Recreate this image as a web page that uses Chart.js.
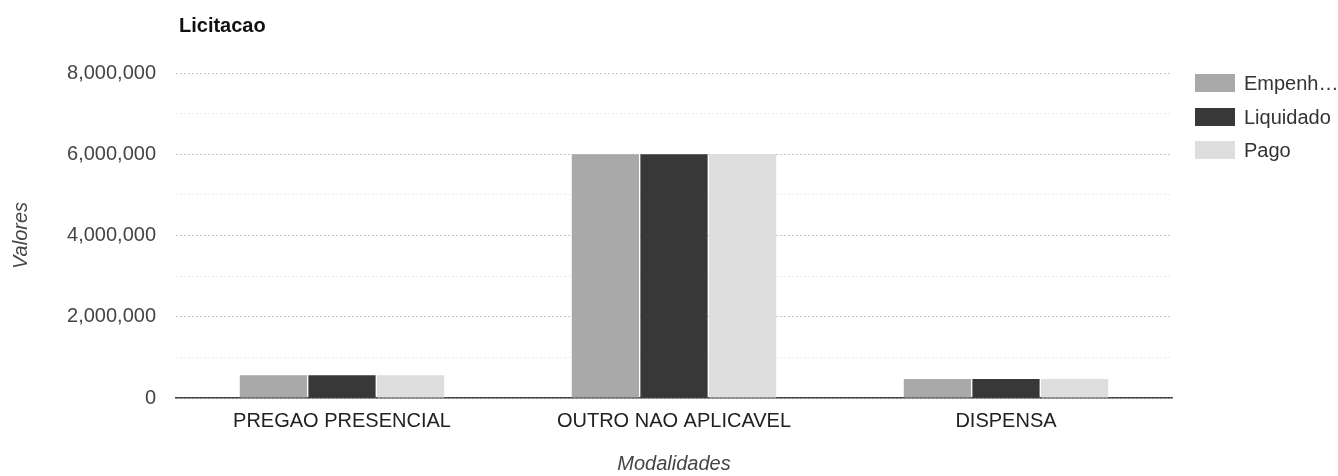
<!DOCTYPE html>
<html>
<head>
<meta charset="utf-8">
<script src="https://cdn.jsdelivr.net/npm/chart.js@4"></script>
<style>
  html, body { margin: 0; padding: 0; background: #fff; }
  #wrap { width: 1338px; height: 476px; }
</style>
</head>
<body>
<div id="wrap"><canvas id="myChart" width="1338" height="476"></canvas></div>
<script>
const modalidades = ['PREGAO PRESENCIAL', 'OUTRO NAO APLICAVEL', 'DISPENSA'];
const empenhado = [560000, 6000000, 470000];
const liquidado = [560000, 6000000, 470000];
const pago = [560000, 6000000, 470000];
const seriesNames = ['Empenh\u2026', 'Liquidado', 'Pago'];
const seriesColors = ['#a9a9a9', '#383838', '#dedede'];

const FONT = 'Arial, "Liberation Sans", sans-serif';

// title + legend drawn by hand so they sit where the original has them
const extras = {
  id: 'extras',
  afterDraw(chart) {
    const ctx = chart.ctx;
    ctx.save();
    ctx.fillStyle = '#111';
    ctx.font = 'bold 20px ' + FONT;
    ctx.textBaseline = 'alphabetic';
    ctx.textAlign = 'left';
    ctx.fillText('Licitacao', 179, 32);

    const ys = [83, 117, 150];
    ctx.font = '20px ' + FONT;
    ctx.textBaseline = 'middle';
    seriesNames.forEach((name, i) => {
      ctx.fillStyle = seriesColors[i];
      ctx.fillRect(1195, ys[i] - 9, 40, 18);
      ctx.fillStyle = '#333';
      ctx.fillText(name, 1244, ys[i] + 1);
    });
    ctx.restore();
  }
};

const ctx = document.getElementById('myChart').getContext('2d');
const myChart = new Chart(ctx, {
  type: 'bar',
  data: {
    labels: modalidades,
    datasets: [
      { label: seriesNames[0], data: empenhado, backgroundColor: seriesColors[0] },
      { label: seriesNames[1], data: liquidado, backgroundColor: seriesColors[1] },
      { label: seriesNames[2], data: pago, backgroundColor: seriesColors[2] }
    ]
  },
  options: {
    responsive: false,
    animation: false,
    layout: { padding: { top: 73, right: 166, bottom: 0, left: 9 } },
    datasets: { bar: { categoryPercentage: 0.62, barPercentage: 0.98 } },
    plugins: {
      legend: { display: false },
      title: { display: false },
      tooltip: { enabled: false }
    },
    scales: {
      x: {
        grid: { display: false, drawTicks: false },
        border: { display: true, color: '#444', width: 1.5 },
        ticks: { color: '#222', font: { family: FONT, size: 20 }, padding: 11, maxRotation: 0 },
        title: { display: true, text: 'Modalidades', color: '#444', font: { family: FONT, size: 20, style: 'italic' }, padding: { top: 17, bottom: 0 } },
        afterFit(scale) { scale.height = 78; }
      },
      y: {
        min: 0,
        max: 8000000,
        ticks: {
          stepSize: 1000000,
          color: '#444',
          font: { family: FONT, size: 20 },
          padding: 20,
          callback: v => (v % 2000000 === 0 ? v.toLocaleString('en-US') : '')
        },
        grid: {
          drawTicks: false,
          color: c => (c.tick && c.tick.value % 2000000 === 0 ? '#c4c4c4' : '#ececec'),
          lineWidth: 1
        },
        border: { display: false, dash: [2, 2] },
        title: { display: true, text: 'Valores', color: '#444', font: { family: FONT, size: 20, style: 'italic' }, padding: { top: 0, bottom: 0 } },
        afterFit(scale) { scale.width = 167; }
      }
    }
  },
  plugins: [extras]
});
</script>
</body>
</html>
